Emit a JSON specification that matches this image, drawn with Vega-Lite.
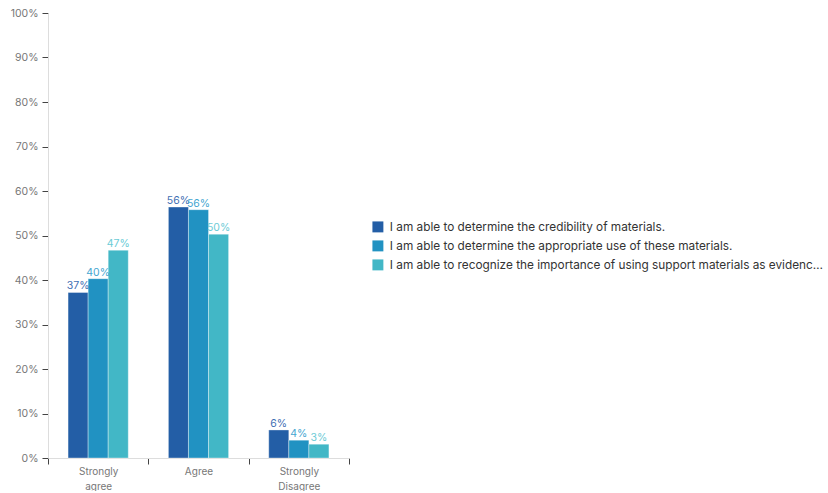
{
  "$schema": "https://vega.github.io/schema/vega-lite/v6.json",
  "width": 301,
  "height": 445,
  "padding": {"left": 10, "top": 8, "right": 0, "bottom": 0},
  "background": "white",
  "config": {
    "font": "Inter",
    "view": {"stroke": null},
    "axis": {"labelFont": "Inter", "labelColor": "#777777", "labelFontSize": 10.5, "domainColor": "#dddddd", "tickColor": "#444444", "grid": false, "title": null}
  },
  "data": {
    "values": [
      {"response": "Strongly agree", "statement": "I am able to determine the credibility of materials.", "share": 0.372},
      {"response": "Strongly agree", "statement": "I am able to determine the appropriate use of these materials.", "share": 0.403},
      {"response": "Strongly agree", "statement": "I am able to recognize the importance of using support materials as evidence in my work.", "share": 0.467},
      {"response": "Agree", "statement": "I am able to determine the credibility of materials.", "share": 0.564},
      {"response": "Agree", "statement": "I am able to determine the appropriate use of these materials.", "share": 0.558},
      {"response": "Agree", "statement": "I am able to recognize the importance of using support materials as evidence in my work.", "share": 0.503},
      {"response": "Strongly Disagree", "statement": "I am able to determine the credibility of materials.", "share": 0.063},
      {"response": "Strongly Disagree", "statement": "I am able to determine the appropriate use of these materials.", "share": 0.040},
      {"response": "Strongly Disagree", "statement": "I am able to recognize the importance of using support materials as evidence in my work.", "share": 0.031}
    ]
  },
  "encoding": {
    "x": {
      "field": "response",
      "type": "nominal",
      "sort": ["Strongly agree", "Agree", "Strongly Disagree"],
      "scale": {"paddingInner": 0, "paddingOuter": 0},
      "axis": {
        "labelAngle": 0,
        "labelExpr": "split(datum.label, ' ')",
        "labelFontSize": 10,
        "labelLineHeight": 15,
        "labelPadding": 2,
        "labelBaseline": "top",
        "tickBand": "extent",
        "tickSize": 6,
        "encode": {"ticks": {"update": {"opacity": {"signal": "datum.index > 0 ? 1 : 0"}}}}
      }
    },
    "xOffset": {
      "field": "statement",
      "type": "nominal",
      "sort": null,
      "scale": {"paddingInner": 0, "paddingOuter": 1}
    },
    "y": {
      "field": "share",
      "type": "quantitative",
      "scale": {"domain": [0, 1]},
      "axis": {"values": [0, 0.1, 0.2, 0.3, 0.4, 0.5, 0.6, 0.7, 0.8, 0.9, 1], "format": ".0%", "tickSize": 6, "labelPadding": 4}
    }
  },
  "layer": [
    {
      "mark": {"type": "bar", "stroke": "white", "strokeWidth": 0.6, "strokeOpacity": 0.6},
      "encoding": {
        "color": {
          "field": "statement",
          "type": "nominal",
          "sort": null,
          "scale": {"range": ["#235ea6", "#2192c2", "#42b7c6"]},
          "legend": {
            "title": null,
            "orient": "none",
            "legendX": 324,
            "legendY": 208,
            "symbolType": "square",
            "symbolSize": 120,
            "symbolStrokeWidth": 0,
            "symbolOpacity": 1,
            "labelFont": "Inter",
            "labelFontSize": 11.8,
            "labelColor": "#333333",
            "labelLimit": 436,
            "labelOffset": 6,
            "rowPadding": 6
          }
        }
      }
    },
    {
      "mark": {"type": "text", "baseline": "bottom", "dy": -1, "fontSize": 10.5, "font": "Inter"},
      "encoding": {
        "text": {"field": "share", "type": "quantitative", "format": ".0%"},
        "color": {
          "field": "statement",
          "type": "nominal",
          "sort": null,
          "scale": {"range": ["#3f6fb3", "#45a6d1", "#6ccbd6"]},
          "legend": null
        }
      }
    }
  ],
  "resolve": {"scale": {"color": "independent"}}
}
